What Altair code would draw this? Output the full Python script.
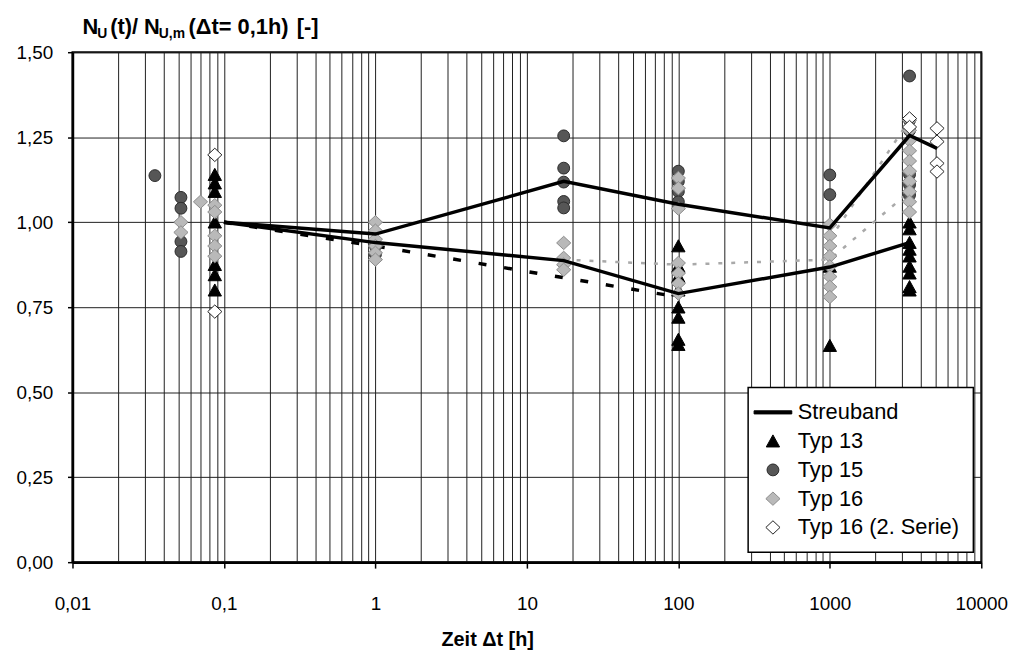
import altair as alt
import pandas as pd

FONT = "Liberation Sans"

# ---------------- data ----------------
series_names = ["Streuband", "Typ 13", "Typ 15", "Typ 16", "Typ 16 (2. Serie)"]

typ13_t = [0.087, 0.087, 0.087, 0.087, 0.087, 0.087, 0.087,
           100, 100, 100, 100, 100, 100, 100, 100,
           1000, 1000,
           3360, 3360, 3360, 3360, 3360, 3360, 3360, 3360, 3360]
typ13_v = [1.14, 1.115, 1.09, 1.0, 0.875, 0.845, 0.80,
           0.93, 0.87, 0.84, 0.80, 0.75, 0.72, 0.655, 0.64,
           0.87, 0.637,
           1.0, 0.98, 0.94, 0.92, 0.90, 0.87, 0.85, 0.81, 0.80]

typ15_t = [0.035, 0.052, 0.052, 0.052, 0.052, 1, 1,
           17.5, 17.5, 17.5, 17.5, 17.5,
           100, 100, 100, 100,
           1000, 1000,
           3360, 3360, 3360, 3360, 3360, 3360]
typ15_v = [1.137, 1.073, 1.041, 0.943, 0.914, 0.93, 0.905,
           1.254, 1.159, 1.118, 1.061, 1.042,
           1.15, 1.12, 1.09, 1.06,
           1.139, 1.081,
           1.43, 1.30, 1.27, 1.14, 1.11, 1.08]

typ16_t = [0.052, 0.052, 0.07, 0.087, 0.087, 0.087, 0.087, 0.087,
           1, 1, 1, 1, 1, 1,
           17.5, 17.5, 17.5, 17.5,
           100, 100, 100, 100, 100, 100, 100,
           1000, 1000, 1000, 1000, 1000, 1000, 1000, 1000,
           3360, 3360, 3360, 3360, 3360, 3360, 3360, 3360, 3360, 3360]
typ16_v = [1.0, 0.97, 1.06, 1.05, 1.03, 0.96, 0.93, 0.90,
           1.0, 0.975, 0.95, 0.93, 0.91, 0.89,
           0.939, 0.895, 0.875, 0.86,
           1.13, 1.10, 1.04, 0.88, 0.85, 0.82, 0.79,
           0.993, 0.96, 0.93, 0.90, 0.87, 0.84, 0.81, 0.78,
           1.30, 1.27, 1.24, 1.21, 1.18, 1.15, 1.12, 1.09, 1.06, 1.03]

typ16b_t = [0.087, 0.087, 3360, 3360, 5100, 5100, 5100, 5100]
typ16b_v = [1.198, 0.737, 1.305, 1.28, 1.276, 1.237, 1.173, 1.149]

# Streuband (scatter band), upper and lower limits
band_up_t = [0.1, 1, 17.5, 100, 1000, 3360, 5100]
band_up_v = [1.0, 0.965, 1.12, 1.053, 0.983, 1.255, 1.217]
band_lo_t = [0.1, 1, 17.5, 100, 1000, 3360]
band_lo_v = [1.0, 0.94, 0.887, 0.79, 0.868, 0.94]

# black dashed trend
dash_t = [0.1, 1, 100]
dash_v = [1.0, 0.93, 0.78]

# light grey dashed trends
grey1_t = [17.5, 100, 1000, 3360]
grey1_v = [0.89, 0.875, 0.89, 1.09]
grey2_t = [1000, 3360]
grey2_v = [0.95, 1.30]

y_ticks = [0, 0.25, 0.5, 0.75, 1.0, 1.25, 1.5]

# ---------------- tables ----------------
rows = []
for name, ts, vs in [("Typ 13", typ13_t, typ13_v), ("Typ 15", typ15_t, typ15_v),
                     ("Typ 16", typ16_t, typ16_v), ("Typ 16 (2. Serie)", typ16b_t, typ16b_v)]:
    for t, v in zip(ts, vs):
        rows.append({"t": t, "v": v, "series": name})
points = pd.DataFrame(rows)


def line_df(pairs):
    r = []
    for lid, ts, vs in pairs:
        for t, v in zip(ts, vs):
            r.append({"t": t, "v": v, "line": lid})
    return pd.DataFrame(r)


band_df = line_df([("up", band_up_t, band_up_v), ("lo", band_lo_t, band_lo_v)])
dash_df = line_df([("d", dash_t, dash_v)])
grey_df = line_df([("g1", grey1_t, grey1_v), ("g2", grey2_t, grey2_v)])

# ---------------- axes ----------------
x_grid_vals = [m * 10.0 ** k for k in range(-2, 4) for m in range(1, 10)] + [10000.0]
DEC = "abs(log(datum.value)/LN10 - round(log(datum.value)/LN10)) < 0.001"

xaxis = alt.Axis(
    values=x_grid_vals,
    labelExpr=f"({DEC}) ? replace(format(datum.value, '~g'), '.', ',') : ''",
    labelFont=FONT, labelFontSize=19, labelColor="black", labelPadding=27,
    labelOverlap=False, labelFlush=False,
    tickOpacity={"condition": {"test": DEC, "value": 1}, "value": 0},
    tickSize=6, tickColor="black", tickWidth=1.5,
    domainColor="black", domainWidth=2.5,
    grid=True, gridColor="#1e1e1e", gridWidth=1, gridOpacity=1,
    title="Zeit Δt [h]", titleFont=FONT, titleFontSize=20, titleFontWeight="bold",
    titleColor="black", titleX=418, titleY=78, titleAlign="center", titleBaseline="middle",
)
yaxis = alt.Axis(
    values=y_ticks,
    labelExpr="replace(format(datum.value, '.2f'), '.', ',')",
    labelFont=FONT, labelFontSize=19, labelColor="black", labelPadding=15,
    tickSize=5, tickColor="black", tickWidth=1.5,
    domainColor="black", domainWidth=2.5,
    grid=True, gridColor="#1e1e1e", gridWidth=1, gridOpacity=1,
    title=None,
)

X = alt.X("t:Q", scale=alt.Scale(type="log", domain=[0.01, 10000], nice=False), axis=xaxis)
Y = alt.Y("v:Q", scale=alt.Scale(domain=[0, 1.5], nice=False, zero=True), axis=yaxis)

# ---------------- legend / symbols (unit = 10.5 px) ----------------
shapes = [
    "M-1.81,-0.15L1.81,-0.15L1.81,0.15L-1.81,0.15Z",
    "M0,-0.6L0.64,0.56L-0.64,0.56Z",
    "M-0.57,0A0.57,0.57,0,1,0,0.57,0A0.57,0.57,0,1,0,-0.57,0Z",
    "M0,-0.64L0.68,0L0,0.64L-0.68,0Z",
    "M0,-0.64L0.68,0L0,0.64L-0.68,0Z",
]
fills = ["black", "black", "#565656", "#b9b9b9", "white"]
strokes = ["black", "black", "#2e2e2e", "#8c8c8c", "#222222"]

leg = alt.Legend(
    title=None, orient="none", legendX=681, legendY=338, direction="vertical",
    fillColor="white", strokeColor="black", padding=14, offset=0,
    labelFont=FONT, labelFontSize=22, labelColor="black", labelOffset=14, labelLimit=400,
    rowPadding=7, symbolSize=441, symbolOffset=0, symbolStrokeWidth=1, symbolOpacity=1,
)

pts = alt.Chart(points).mark_point(filled=True, opacity=1, size=441, strokeWidth=1).encode(
    x=X, y=Y,
    shape=alt.Shape("series:N", scale=alt.Scale(domain=series_names, range=shapes), legend=leg),
    fill=alt.Fill("series:N", scale=alt.Scale(domain=series_names, range=fills), legend=leg),
    stroke=alt.Stroke("series:N", scale=alt.Scale(domain=series_names, range=strokes), legend=leg),
)

grey_lines = alt.Chart(grey_df).mark_line(color="#a9a9a9", strokeWidth=2.5, strokeDash=[4, 9]).encode(
    x=X, y=Y, detail="line:N")
dash_line = alt.Chart(dash_df).mark_line(color="black", strokeWidth=3.5, strokeDash=[8, 18]).encode(
    x=X, y=Y, detail="line:N")
band_lines = alt.Chart(band_df).mark_line(color="black", strokeWidth=3.5).encode(
    x=X, y=Y, detail="line:N")

# ---------------- y title with subscripts ----------------
one = pd.DataFrame({"d": [0]})


def txt(s, x, y, size):
    return alt.Chart(one).mark_text(
        text=s, align="left", baseline="alphabetic", font=FONT, fontSize=size,
        fontWeight="bold", color="black").encode(x=alt.value(x), y=alt.value(y))


title_layers = [
    txt("N", 10, -18, 22),
    txt("U", 25, -14, 14),
    txt("(t)/", 38, -18, 22),
    txt("N", 72, -18, 22),
    txt("U,m", 87, -14, 14),
    txt("(Δt= 0,1h)", 117, -18, 22),
    txt("[-]", 226, -18, 22),
]

chart = alt.layer(grey_lines, dash_line, pts, band_lines, *title_layers).properties(
    width=916, height=514,
    autosize=alt.AutoSizeParams(type="none"),
    padding={"left": 65, "top": 42, "right": 37, "bottom": 91},
).configure_view(stroke="black", strokeWidth=2).configure_legend(strokeWidth=1.5)

chart.save("out.html", embed_options={"renderer": "svg", "actions": False})
